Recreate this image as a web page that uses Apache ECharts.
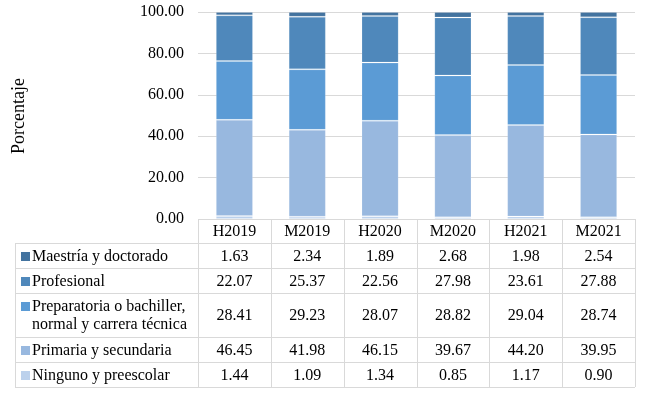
<!DOCTYPE html>
<html>
<head>
<meta charset="utf-8">
<script src="https://cdn.jsdelivr.net/npm/echarts@6/dist/echarts.min.js"></script>
<style>html,body{margin:0;padding:0;background:#fff}#c{width:647px;height:397px}</style>
</head>
<body>
<div id="c"></div>
<script>
var categories = ['H2019','M2019','H2020','M2020','H2021','M2021'];
var seriesNames = ['Maestría y doctorado','Profesional','Preparatoria o bachiller,\nnormal y carrera técnica','Primaria y secundaria','Ninguno y preescolar'];
var maestria = [1.63, 2.34, 1.89, 2.68, 1.98, 2.54];
var profesional = [22.07, 25.37, 22.56, 27.98, 23.61, 27.88];
var preparatoria = [28.41, 29.23, 28.07, 28.82, 29.04, 28.74];
var primaria = [46.45, 41.98, 46.15, 39.67, 44.20, 39.95];
var ninguno = [1.44, 1.09, 1.34, 0.85, 1.17, 0.90];
var colors = ['#43739f', '#4f88bb', '#5b9bd5', '#98b8df', '#bcd1ec'];
var yTicks = [0, 20, 40, 60, 80, 100];

var rowsData = [maestria, profesional, preparatoria, primaria, ninguno];

(function () {
var FONT = '"Liberation Serif", "Times New Roman", serif';
var L = 198, R = 635, T = 12, B = 219;
var tableLeft = 15;
var rowLines = [219, 243, 268, 293, 337, 362, 387];
var colW = (R - L) / categories.length;
var gridColor = '#d9d9d9';

var graphics = [];
function line(x1, y1, x2, y2) {
  graphics.push({type:'line', shape:{x1:x1, y1:y1, x2:x2, y2:y2}, style:{stroke:gridColor, lineWidth:1}, silent:true});
}
function addText(str, x, y, size, align) {
  graphics.push({type:'text', x:x, y:y, style:{text:str, font:size + 'px ' + FONT, fill:'#000', align:align, verticalAlign:'middle'}, silent:true});
}
for (var i = 0; i < rowLines.length; i++) {
  var yy = rowLines[i] + 0.5;
  line(i === 0 ? L : tableLeft, yy, R, yy);
}
line(tableLeft + 0.5, rowLines[1], tableLeft + 0.5, rowLines[rowLines.length-1]);
for (var c = 0; c <= categories.length; c++) {
  var xx = Math.round(L + c * colW) + 0.5;
  line(xx, rowLines[0], xx, rowLines[rowLines.length-1]);
}
for (var r = 0; r < seriesNames.length; r++) {
  var rTop = rowLines[r+1], rBot = rowLines[r+2];
  var mid = (rTop + rBot) / 2;
  var lines = seriesNames[r].split('\n');
  var firstY = lines.length > 1 ? mid - 9 : mid;
  graphics.push({type:'rect', shape:{x:21, y:Math.round(firstY) - 4, width:9, height:9}, style:{fill:colors[r]}, silent:true});
  for (var k = 0; k < lines.length; k++) {
    addText(lines[k], 32, firstY + k*18 + 1, 16, 'left');
  }
  for (var c2 = 0; c2 < categories.length; c2++) {
    addText(rowsData[r][c2].toFixed(2), L + (c2+0.5)*colW, mid + 1, 16, 'center');
  }
}
graphics.push({type:'text', rotation:Math.PI/2, x:19, y:116, style:{text:'Porcentaje', font:'18px ' + FONT, fill:'#000', align:'center', verticalAlign:'middle'}, silent:true});

function mkSeries(name, data, color) {
  return {name:name, type:'bar', stack:'total', data:data, barWidth:'51%',
    itemStyle:{color:color, borderColor:'rgba(255,255,255,0.15)', borderWidth:1}, emphasis:{disabled:true}};
}

var chart = echarts.init(document.getElementById('c'), null, {renderer:'canvas'});
chart.setOption({
  animation:false,
  grid:{left:L, right:647-R, top:T, bottom:397-B, containLabel:false},
  xAxis:{type:'category', data:categories,
    axisLine:{show:false}, axisTick:{show:false},
    axisLabel:{margin:5, fontFamily:FONT, fontSize:16, color:'#000'}},
  yAxis:{type:'value', min:yTicks[0], max:yTicks[yTicks.length-1], interval:20,
    axisLine:{show:false}, axisTick:{show:false},
    splitLine:{lineStyle:{color:gridColor, width:1}},
    axisLabel:{margin:14, fontFamily:FONT, fontSize:16, color:'#000', formatter:function(v){return v.toFixed(2);}}},
  series:[
    mkSeries('Ninguno y preescolar', ninguno, colors[4]),
    mkSeries('Primaria y secundaria', primaria, colors[3]),
    mkSeries('Preparatoria', preparatoria, colors[2]),
    mkSeries('Profesional', profesional, colors[1]),
    mkSeries('Maestría y doctorado', maestria, colors[0])
  ],
  graphic:graphics
});
})();
</script>
</body>
</html>
